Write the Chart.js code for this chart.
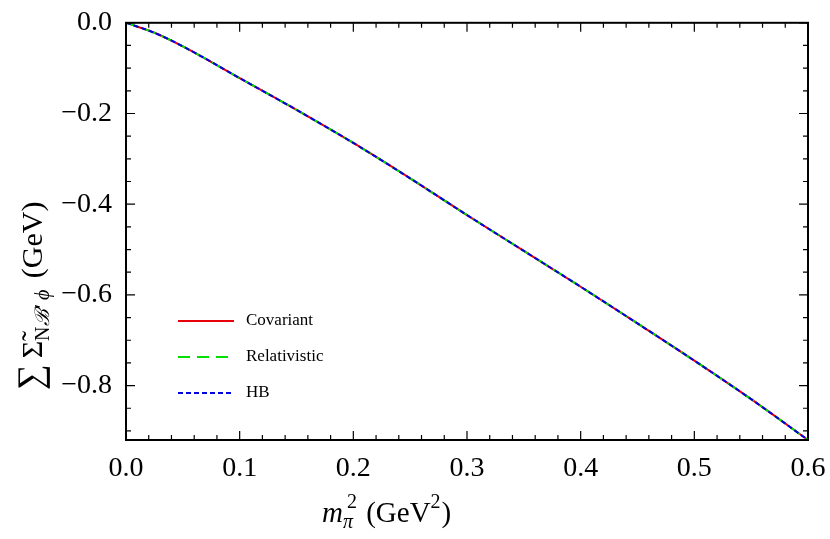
<!DOCTYPE html>
<html>
<head>
<meta charset="utf-8">
<script src="https://cdn.jsdelivr.net/npm/chart.js@4"></script>
<style>
  body { margin: 0; background: #fff; }
  #wrap { width: 830px; height: 539px; }
</style>
</head>
<body>
<div id="wrap"><canvas id="c"></canvas></div>
<script>
const mpi2 = [0, 0.025, 0.05, 0.1, 0.15, 0.2, 0.25, 0.3, 0.35, 0.4, 0.45, 0.5, 0.55, 0.6];
const covariant = [0, -0.022, -0.052, -0.122, -0.192, -0.265, -0.343, -0.424, -0.503, -0.582, -0.663, -0.745, -0.83, -0.92];
const relativistic = covariant.slice();
const hb = covariant.slice();
const xTicks = [0, 0.1, 0.2, 0.3, 0.4, 0.5, 0.6];
const yTicks = [0, -0.2, -0.4, -0.6, -0.8];

const serif = "'Liberation Serif', 'DejaVu Serif', serif";

function pts(ys) { return mpi2.map((x, i) => ({ x: x, y: ys[i] })); }

// frame, inner ticks, axis titles and legend
const decor = {
    id: "decor",
    afterDraw(chart) {
        const ctx = chart.ctx;
        const a = chart.chartArea;
        const xs = chart.scales.x, ys = chart.scales.y;
        ctx.save();
        ctx.strokeStyle = "#000";
        ctx.lineWidth = 2;
        ctx.strokeRect(a.left, a.top, a.right - a.left, a.bottom - a.top);
        ctx.lineWidth = 1.2;
        for (let v = 0; v <= 0.6001; v += 0.02) {
            const major = Math.abs(v * 10 - Math.round(v * 10)) < 1e-6;
            const len = major ? 9 : 5;
            const px = xs.getPixelForValue(v);
            ctx.beginPath();
            ctx.moveTo(px, a.bottom); ctx.lineTo(px, a.bottom - len);
            ctx.moveTo(px, a.top); ctx.lineTo(px, a.top + len);
            ctx.stroke();
        }
        for (let v = 0; v >= -0.92; v -= 0.05) {
            const major = Math.abs(v * 5 - Math.round(v * 5)) < 1e-6;
            const len = major ? 9 : 5;
            const py = ys.getPixelForValue(v);
            ctx.beginPath();
            ctx.moveTo(a.left, py); ctx.lineTo(a.left + len, py);
            ctx.moveTo(a.right, py); ctx.lineTo(a.right - len, py);
            ctx.stroke();
        }
        ctx.fillStyle = "#000";
        // x title
        ctx.textBaseline = "alphabetic";
        let x = 322, y = 522;
        ctx.font = "italic 29px " + serif;
        ctx.fillText("m", x, y); x += ctx.measureText("m").width;
        ctx.font = "italic 20px " + serif;
        ctx.fillText("π", x, y + 6);
        ctx.font = "20px " + serif;
        ctx.fillText("2", x + 4, y - 14); x += 16;
        ctx.font = "29px " + serif;
        ctx.fillText(" (GeV", x, y); x += ctx.measureText(" (GeV").width;
        ctx.font = "20px " + serif;
        ctx.fillText("2", x, y - 14); x += 11;
        ctx.font = "29px " + serif;
        ctx.fillText(")", x, y);
        // y title
        ctx.save();
        ctx.translate(42, 390);
        ctx.rotate(-Math.PI / 2);
        x = 0; y = 0;
        ctx.font = "36px " + serif;
        ctx.fillText("∑", x, y); x += ctx.measureText("∑").width + 6;
        ctx.font = "30px " + serif;
        ctx.fillText("Σ̃", x, y); x += ctx.measureText("Σ").width;
        ctx.font = "20px " + serif;
        ctx.fillText("N", x, y + 7); x += ctx.measureText("N").width;
        ctx.font = "italic 20px " + serif;
        ctx.fillText("ℬ′ ϕ", x, y + 7); x += ctx.measureText("ℬ′ ϕ").width + 4;
        ctx.font = "30px " + serif;
        ctx.fillText(" (GeV)", x, y);
        ctx.restore();
        // legend
        const items = [["Covariant", "#e8000b", []], ["Relativistic", "#00e000", [12, 7]], ["HB", "#0000e0", [5, 3]]];
        ctx.font = "17px " + serif;
        ctx.textBaseline = "middle";
        items.forEach((it, i) => {
            const ly = 321 + i * 36;
            ctx.strokeStyle = it[1];
            ctx.lineWidth = 2;
            ctx.setLineDash(it[2]);
            ctx.beginPath(); ctx.moveTo(178, ly); ctx.lineTo(234, ly); ctx.stroke();
            ctx.setLineDash([]);
            ctx.fillText(it[0], 246, ly);
        });
        ctx.restore();
    }
};

new Chart(document.getElementById("c"), {
    type: "line",
    data: {
        datasets: [
            { label: "Covariant", data: pts(covariant), borderColor: "#e8000b", borderWidth: 2, order: 3 },
            { label: "Relativistic", data: pts(relativistic), borderColor: "#00e000", borderWidth: 2, borderDash: [12, 7], order: 2 },
            { label: "HB", data: pts(hb), borderColor: "#0000e0", borderWidth: 2, borderDash: [5, 3], order: 1 }
        ]
    },
    options: {
        responsive: true,
        maintainAspectRatio: false,
        animation: false,
        layout: { padding: { top: 19, right: 22 } },
        elements: { point: { radius: 0 }, line: { cubicInterpolationMode: "monotone", fill: false } },
        plugins: { legend: { display: false }, tooltip: { enabled: false } },
        scales: {
            x: {
                type: "linear", min: 0, max: 0.6,
                afterFit: s => { s.height = 99; },
                afterBuildTicks: s => { s.ticks = xTicks.map(v => ({ value: v })); },
                grid: { display: false },
                border: { display: false },
                ticks: { color: "#000", padding: 4, maxRotation: 0, font: { family: serif, size: 28 }, callback: v => v.toFixed(1) }
            },
            y: {
                type: "linear", min: -0.92, max: 0,
                afterFit: s => { s.width = 126; },
                afterBuildTicks: s => { s.ticks = yTicks.map(v => ({ value: v })); },
                grid: { display: false },
                border: { display: false },
                ticks: { color: "#000", padding: 6, font: { family: serif, size: 28 }, callback: v => (v < 0 ? "\u2212" + Math.abs(v).toFixed(1) : "0.0") }
            }
        }
    },
    plugins: [decor]
});
</script>
</body>
</html>
